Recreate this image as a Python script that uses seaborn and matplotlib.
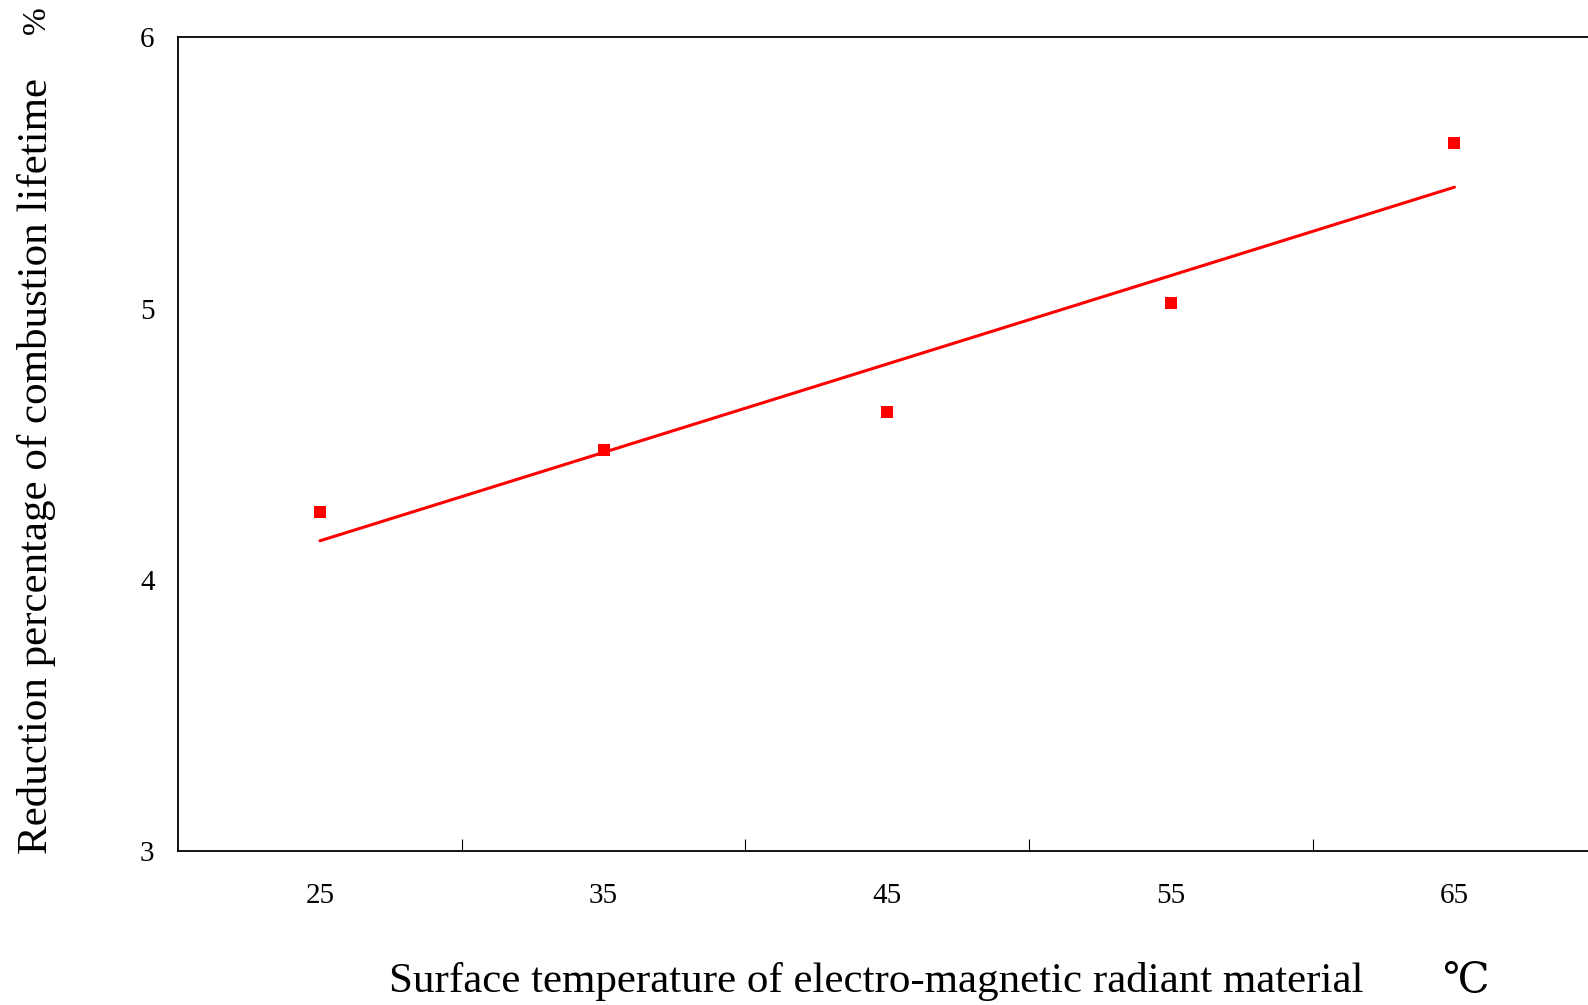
import numpy as np
import pandas as pd
import seaborn as sns
import matplotlib.pyplot as plt
from matplotlib.ticker import FixedLocator, FixedFormatter, NullFormatter

# valori
temperatura = [25, 35, 45, 55, 65]
riduzione = [4.25, 4.48, 4.62, 5.02, 5.61]
tick_y = [3, 4, 5, 6]
tick_x_linee = [30, 40, 50, 60]

df = pd.DataFrame({"temperatura": temperatura, "riduzione": riduzione})

sns.set_style("white")
plt.rcParams["font.family"] = ["Liberation Serif", "DejaVu Serif"]
plt.rcParams["text.color"] = "black"
plt.rcParams["xtick.color"] = "black"
plt.rcParams["ytick.color"] = "black"

fig = plt.figure(figsize=(15.88, 10.05), dpi=100)
ax = fig.add_axes([0.1122, 0.1532, 0.893, 0.8095])

sns.regplot(data=df, x="temperatura", y="riduzione", ci=None, marker="s", ax=ax,
            color="#ff0000",
            scatter_kws={"s": 70, "linewidths": 0, "alpha": 1},
            line_kws={"linewidth": 2.2})

ax.set_xlim(20, 70)
ax.set_ylim(3, 6)

# tick principali (solo trattini), etichette sui minori
ax.xaxis.set_major_locator(FixedLocator(tick_x_linee))
ax.xaxis.set_major_formatter(NullFormatter())
ax.xaxis.set_minor_locator(FixedLocator(temperatura))
ax.xaxis.set_minor_formatter(FixedFormatter([str(t) for t in temperatura]))
ax.tick_params(axis="x", which="major", direction="in", length=9, width=0.8, color="black", bottom=True)
ax.tick_params(axis="x", which="minor", length=0, pad=23, labelsize=21, labelcolor="black")

ax.set_yticks(tick_y)
ax.set_yticklabels([str(t) for t in tick_y])
ax.tick_params(axis="y", length=0, pad=17, labelsize=21, labelcolor="black")

for lato in ["left", "bottom", "top"]:
    ax.spines[lato].set_visible(True)
    ax.spines[lato].set_color("black")
    ax.spines[lato].set_linewidth(1.3)
ax.spines["right"].set_visible(False)

ax.set_xlabel("")
ax.set_ylabel("")

fig.text(0.552, 0.013, "Surface temperature of electro-magnetic radiant material",
         fontsize=31, ha="center", va="baseline")
fig.text(0.923, 0.013, "\u2103", fontsize=30, ha="center", va="baseline",
         family=["DejaVu Serif", "DejaVu Sans"])
fig.text(0.023, 0.536, "Reduction percentage of combustion lifetime",
         fontsize=31, rotation=90, ha="center", va="center")
fig.text(0.023, 0.98, "%", fontsize=24, rotation=90, ha="center", va="center")

plt.savefig("out.png", dpi=100)
